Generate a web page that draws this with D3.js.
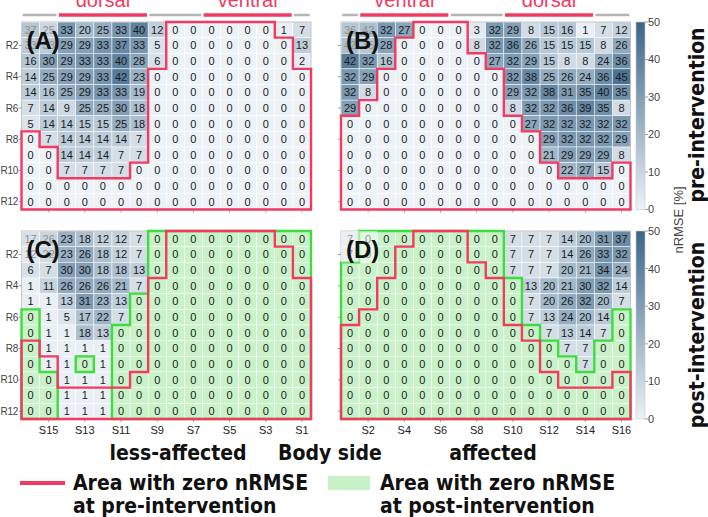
<!DOCTYPE html>
<html>
<head>
<meta charset="utf-8">
<script src="https://cdn.jsdelivr.net/npm/d3@7"></script>
<style>
  body { margin: 0; background: #fff; }
  svg text { font-family: "Liberation Sans", Arial, sans-serif; }
  svg text.bold { font-family: "Liberation Sans Narrow", "Arial Narrow", "DejaVu Sans Condensed", sans-serif; font-weight: bold; }
</style>
</head>
<body>
<svg id="chart" width="708" height="517"></svg>
<script>
// ---- data ----
const rowNames = d3.range(1, 13).map(i => 'R' + i)
const colsLess = d3.range(16, 0, -1).map(i => 'S' + i)   // S16 ... S1
const colsAff = d3.range(1, 17).map(i => 'S' + i)        // S1 ... S16
const rowTicks = ['R2', 'R4', 'R6', 'R8', 'R10', 'R12']
const tickLess = ['S15', 'S13', 'S11', 'S9', 'S7', 'S5', 'S3', 'S1']
const tickAff = ['S2', 'S4', 'S6', 'S8', 'S10', 'S12', 'S14', 'S16']
const regions = [{ name: 'ventral', from: 'S2', to: 'S6' }, { name: 'dorsal', from: 'S10', to: 'S14' }]
const cbTicks = [0, 10, 20, 30, 40, 50]

// (A) pre-intervention, less-affected side
const preLess = [
  [37, 25, 33, 20, 25, 33, 40, 12, 0, 0, 0, 0, 0, 0, 1, 7],
  [33, 33, 29, 29, 33, 37, 33, 5, 0, 0, 0, 0, 0, 0, 0, 13],
  [16, 30, 29, 33, 33, 40, 28, 6, 0, 0, 0, 0, 0, 0, 0, 2],
  [14, 25, 29, 29, 33, 42, 23, 0, 0, 0, 0, 0, 0, 0, 0, 0],
  [14, 16, 25, 29, 33, 33, 19, 0, 0, 0, 0, 0, 0, 0, 0, 0],
  [7, 14, 9, 25, 25, 30, 18, 0, 0, 0, 0, 0, 0, 0, 0, 0],
  [5, 14, 14, 15, 15, 25, 18, 0, 0, 0, 0, 0, 0, 0, 0, 0],
  [0, 7, 14, 14, 14, 14, 7, 0, 0, 0, 0, 0, 0, 0, 0, 0],
  [0, 0, 14, 14, 14, 7, 7, 0, 0, 0, 0, 0, 0, 0, 0, 0],
  [0, 0, 7, 7, 7, 7, 0, 0, 0, 0, 0, 0, 0, 0, 0, 0],
  [0, 0, 0, 0, 0, 0, 0, 0, 0, 0, 0, 0, 0, 0, 0, 0],
  [0, 0, 0, 0, 0, 0, 0, 0, 0, 0, 0, 0, 0, 0, 0, 0]
]
// (B) pre-intervention, affected side
const preAff = [
  [36, 42, 32, 27, 0, 0, 0, 3, 32, 29, 8, 15, 16, 1, 7, 12],
  [42, 35, 28, 0, 0, 0, 0, 8, 32, 36, 26, 15, 15, 15, 8, 26],
  [42, 32, 16, 0, 0, 0, 0, 0, 27, 32, 29, 15, 8, 8, 24, 36],
  [32, 29, 0, 0, 0, 0, 0, 0, 0, 32, 38, 25, 26, 24, 36, 45],
  [32, 8, 0, 0, 0, 0, 0, 0, 0, 29, 32, 38, 31, 35, 40, 35],
  [29, 0, 0, 0, 0, 0, 0, 0, 0, 8, 32, 32, 36, 39, 35, 8],
  [0, 0, 0, 0, 0, 0, 0, 0, 0, 0, 27, 32, 32, 32, 32, 32],
  [0, 0, 0, 0, 0, 0, 0, 0, 0, 0, 0, 29, 32, 32, 32, 29],
  [0, 0, 0, 0, 0, 0, 0, 0, 0, 0, 0, 21, 29, 29, 29, 8],
  [0, 0, 0, 0, 0, 0, 0, 0, 0, 0, 0, 0, 22, 27, 15, 0],
  [0, 0, 0, 0, 0, 0, 0, 0, 0, 0, 0, 0, 0, 0, 0, 0],
  [0, 0, 0, 0, 0, 0, 0, 0, 0, 0, 0, 0, 0, 0, 0, 0]
]
// (C) post-intervention, less-affected side
const postLess = [
  [17, 26, 23, 18, 12, 12, 7, 0, 0, 0, 0, 0, 0, 0, 0, 0],
  [12, 22, 23, 26, 18, 12, 7, 0, 0, 0, 0, 0, 0, 0, 0, 0],
  [6, 7, 30, 30, 18, 18, 13, 0, 0, 0, 0, 0, 0, 0, 0, 0],
  [1, 11, 26, 26, 26, 21, 7, 0, 0, 0, 0, 0, 0, 0, 0, 0],
  [1, 1, 13, 31, 23, 13, 0, 0, 0, 0, 0, 0, 0, 0, 0, 0],
  [0, 1, 5, 17, 22, 7, 0, 0, 0, 0, 0, 0, 0, 0, 0, 0],
  [0, 1, 1, 18, 13, 0, 0, 0, 0, 0, 0, 0, 0, 0, 0, 0],
  [0, 1, 1, 1, 1, 0, 0, 0, 0, 0, 0, 0, 0, 0, 0, 0],
  [0, 1, 1, 0, 1, 0, 0, 0, 0, 0, 0, 0, 0, 0, 0, 0],
  [0, 0, 1, 1, 1, 0, 0, 0, 0, 0, 0, 0, 0, 0, 0, 0],
  [0, 0, 1, 1, 1, 0, 0, 0, 0, 0, 0, 0, 0, 0, 0, 0],
  [0, 0, 1, 1, 1, 0, 0, 0, 0, 0, 0, 0, 0, 0, 0, 0]
]
// (D) post-intervention, affected side
const postAff = [
  [7, 0, 0, 0, 0, 0, 0, 0, 0, 7, 7, 7, 14, 20, 31, 37],
  [7, 0, 0, 0, 0, 0, 0, 0, 0, 7, 7, 7, 14, 26, 33, 32],
  [0, 0, 0, 0, 0, 0, 0, 0, 0, 7, 7, 7, 20, 21, 34, 24],
  [0, 0, 0, 0, 0, 0, 0, 0, 0, 0, 13, 20, 21, 30, 32, 14],
  [0, 0, 0, 0, 0, 0, 0, 0, 0, 0, 7, 20, 26, 32, 20, 7],
  [0, 0, 0, 0, 0, 0, 0, 0, 0, 0, 7, 13, 24, 20, 14, 0],
  [0, 0, 0, 0, 0, 0, 0, 0, 0, 0, 0, 7, 13, 14, 7, 0],
  [0, 0, 0, 0, 0, 0, 0, 0, 0, 0, 0, 0, 7, 7, 0, 0],
  [0, 0, 0, 0, 0, 0, 0, 0, 0, 0, 0, 0, 0, 7, 0, 0],
  [0, 0, 0, 0, 0, 0, 0, 0, 0, 0, 0, 0, 0, 0, 0, 0],
  [0, 0, 0, 0, 0, 0, 0, 0, 0, 0, 0, 0, 0, 0, 0, 0],
  [0, 0, 0, 0, 0, 0, 0, 0, 0, 0, 0, 0, 0, 0, 0, 0]
]

// ---- styles / layout ----
const RED = '#f23a63', GREEN = '#3fdc3f', GREEN_FILL = '#c9f2c9'
const color = d3.scaleLinear().domain([0, 50]).range(['#edf2f7', '#3a6588'])
const svg = d3.select('#chart')

const panelW = 289.5
const yTop = [22, 209.5], yBottom = [231, 419]
const panels = [
  { tag: '(A)', data: preLess, cols: colsLess, x0: 21.5, yr: yTop, pre: preLess, post: null, rowLab: true, colTicks: null },
  { tag: '(B)', data: preAff, cols: colsAff, x0: 341, yr: yTop, pre: preAff, post: null, rowLab: false, colTicks: null },
  { tag: '(C)', data: postLess, cols: colsLess, x0: 21.5, yr: yBottom, pre: preLess, post: postLess, rowLab: true, colTicks: tickLess },
  { tag: '(D)', data: postAff, cols: colsAff, x0: 341, yr: yBottom, pre: preAff, post: postAff, rowLab: false, colTicks: tickAff }
]

// outline of the zero cells of a matrix, as a path
function zeroOutline(m, x, y, cols) {
  const p = d3.path()
  const R = m.length, C = m[0].length
  const isZero = (r, c) => r >= 0 && r < R && c >= 0 && c < C && m[r][c] === 0
  for (let r = 0; r < R; r++) {
    for (let c = 0; c < C; c++) {
      if (!isZero(r, c)) continue
      const x1 = x(cols[c]), x2 = x1 + x.bandwidth()
      const y1 = y(rowNames[r]), y2 = y1 + y.bandwidth()
      if (!isZero(r - 1, c)) { p.moveTo(x1, y1); p.lineTo(x2, y1) }
      if (!isZero(r + 1, c)) { p.moveTo(x1, y2); p.lineTo(x2, y2) }
      if (!isZero(r, c - 1)) { p.moveTo(x1, y1); p.lineTo(x1, y2) }
      if (!isZero(r, c + 1)) { p.moveTo(x2, y1); p.lineTo(x2, y2) }
    }
  }
  return p.toString()
}

panels.forEach(pn => {
  const x = d3.scaleBand().domain(pn.cols).range([pn.x0, pn.x0 + panelW])
  const y = d3.scaleBand().domain(rowNames).range(pn.yr)
  const g = svg.append('g')

  const cells = []
  pn.data.forEach((row, r) => row.forEach((v, c) => cells.push({ r: rowNames[r], c: pn.cols[c], v })))

  g.selectAll('rect.cell')
    .data(cells)
    .join('rect')
    .attr('class', 'cell')
    .attr('x', d => x(d.c))
    .attr('y', d => y(d.r))
    .attr('width', x.bandwidth())
    .attr('height', y.bandwidth())
    .attr('fill', d => (pn.post && d.v === 0) ? GREEN_FILL : color(d.v))
    .attr('stroke', '#fff')
    .attr('stroke-width', 0.5)

  g.selectAll('text.val')
    .data(cells)
    .join('text')
    .attr('class', 'val')
    .attr('x', d => x(d.c) + x.bandwidth() / 2)
    .attr('y', d => y(d.r) + y.bandwidth() / 2)
    .attr('dy', '0.36em')
    .attr('text-anchor', 'middle')
    .attr('font-size', 11)
    .attr('fill', '#1a1a1a')
    .text(d => d.v)

  // panel frame
  g.append('rect')
    .attr('x', pn.x0).attr('y', pn.yr[0])
    .attr('width', panelW).attr('height', pn.yr[1] - pn.yr[0])
    .attr('fill', 'none').attr('stroke', '#b8b8b8').attr('stroke-width', 0.8)

  // ticks
  g.selectAll('line.rt')
    .data(rowTicks)
    .join('line')
    .attr('x1', pn.x0 - 3).attr('x2', pn.x0)
    .attr('y1', d => y(d) + y.bandwidth() / 2).attr('y2', d => y(d) + y.bandwidth() / 2)
    .attr('stroke', '#888').attr('stroke-width', 0.8)
  const ct = pn.cols.filter((d, i) => i % 2 === 1)
  g.selectAll('line.ct')
    .data(ct)
    .join('line')
    .attr('x1', d => x(d) + x.bandwidth() / 2).attr('x2', d => x(d) + x.bandwidth() / 2)
    .attr('y1', pn.yr[1]).attr('y2', pn.yr[1] + 3)
    .attr('stroke', '#888').attr('stroke-width', 0.8)

  if (pn.rowLab) {
    g.selectAll('text.rl')
      .data(rowTicks)
      .join('text')
      .attr('x', pn.x0 - 3.5)
      .attr('y', d => y(d) + y.bandwidth() / 2)
      .attr('dy', '0.36em')
      .attr('text-anchor', 'end')
      .attr('font-size', 10)
      .attr('letter-spacing', -0.3)
      .attr('fill', '#444')
      .text(d => d)
  }
  if (pn.colTicks) {
    g.selectAll('text.cl')
      .data(pn.colTicks)
      .join('text')
      .attr('x', d => x(d) + x.bandwidth() / 2)
      .attr('y', pn.yr[1] + 15)
      .attr('text-anchor', 'middle')
      .attr('font-size', 11)
      .attr('fill', '#222')
      .text(d => d)
  }

  // zero outlines: green (post) under red (pre)
  if (pn.post) {
    g.append('path')
      .attr('d', zeroOutline(pn.post, x, y, pn.cols))
      .attr('fill', 'none').attr('stroke', GREEN).attr('stroke-width', 2.4).attr('stroke-linecap', 'square')
  }
  g.append('path')
    .attr('d', zeroOutline(pn.pre, x, y, pn.cols))
    .attr('fill', 'none').attr('stroke', RED).attr('stroke-width', 2.4).attr('stroke-linecap', 'square')

  // panel tag with faded background
  g.append('rect')
    .attr('x', x(pn.cols[0])).attr('y', y('R1'))
    .attr('width', x.bandwidth() * 2).attr('height', y.bandwidth() * 2)
    .attr('fill', '#fff').attr('opacity', 0.5)
  g.append('text')
    .attr('x', pn.x0 + 5)
    .attr('y', pn.yr[0] + 27)
    .attr('font-size', 24)
    .attr('font-weight', 'bold')
    .attr('fill', '#111')
    .text(pn.tag)

  // body region header (top panels)
  if (pn.yr === yTop) {
    const idx = d => pn.cols.indexOf(d)
    const marks = regions.map(rg => {
      const a = idx(rg.from), b = idx(rg.to)
      return { name: rg.name, lo: Math.min(a, b), hi: Math.max(a, b) + 1 }
    }).sort((a, b) => a.lo - b.lo)
    const segs = []
    let cur = 0
    marks.forEach(m => {
      if (m.lo > cur) segs.push({ lo: cur, hi: m.lo, name: null })
      segs.push(m)
      cur = m.hi
    })
    if (cur < pn.cols.length) segs.push({ lo: cur, hi: pn.cols.length, name: null })
    const px = i => pn.x0 + i * x.step()
    g.selectAll('line.hd')
      .data(segs)
      .join('line')
      .attr('x1', d => px(d.lo) + 1.2).attr('x2', d => px(d.hi) - 1.2)
      .attr('y1', 15).attr('y2', 15)
      .attr('stroke', d => d.name ? RED : '#b4b4b4')
      .attr('stroke-width', d => d.name ? 3.5 : 2.5)
    g.selectAll('text.hd')
      .data(segs.filter(d => d.name))
      .join('text')
      .attr('x', d => (px(d.lo) + px(d.hi)) / 2)
      .attr('y', 7)
      .attr('text-anchor', 'middle')
      .attr('font-size', 20)
      .attr('fill', RED)
      .text(d => d.name)
  }
})

// ---- colour bars ----
const grad = svg.append('defs').append('linearGradient')
  .attr('id', 'cbar').attr('x1', 0).attr('x2', 0).attr('y1', 1).attr('y2', 0)
grad.selectAll('stop')
  .data(cbTicks)
  .join('stop')
  .attr('offset', d => d / 50)
  .attr('stop-color', d => color(d))

;[yTop, yBottom].forEach(yr => {
  const cy = d3.scaleLinear().domain([0, 50]).range([yr[1], yr[0]])
  const g = svg.append('g')
  g.append('rect')
    .attr('x', 636).attr('y', yr[0]).attr('width', 9).attr('height', yr[1] - yr[0])
    .attr('fill', 'url(#cbar)').attr('stroke', '#c8c8c8').attr('stroke-width', 0.6)
  g.selectAll('line')
    .data(cbTicks)
    .join('line')
    .attr('x1', 645).attr('x2', 648)
    .attr('y1', d => cy(d)).attr('y2', d => cy(d))
    .attr('stroke', '#888').attr('stroke-width', 0.8)
  g.selectAll('text')
    .data(cbTicks)
    .join('text')
    .attr('x', 648)
    .attr('y', d => cy(d))
    .attr('dy', '0.36em')
    .attr('font-size', 11)
    .attr('fill', '#444')
    .text(d => d)
})

svg.append('text')
  .attr('transform', 'translate(683,220) rotate(-90)')
  .attr('text-anchor', 'middle')
  .attr('font-size', 13)
  .attr('fill', '#444')
  .text('nRMSE [%]')

svg.append('text')
  .attr('class', 'bold')
  .attr('transform', 'translate(704,115) rotate(-90)')
  .attr('text-anchor', 'middle')
  .attr('font-size', 21)
  .attr('fill', '#111')
  .text('pre-intervention')
svg.append('text')
  .attr('class', 'bold')
  .attr('transform', 'translate(704,335) rotate(-90)')
  .attr('text-anchor', 'middle')
  .attr('font-size', 21)
  .attr('fill', '#111')
  .text('post-intervention')

// ---- bottom titles ----
const titles = [{ t: 'less-affected', x: 178 }, { t: 'Body side', x: 330 }, { t: 'affected', x: 493 }]
svg.selectAll('text.ttl')
  .data(titles)
  .join('text')
  .attr('class', 'bold')
  .attr('x', d => d.x)
  .attr('y', 460)
  .attr('text-anchor', 'middle')
  .attr('font-size', 21)
  .attr('fill', '#111')
  .text(d => d.t)

// ---- legend ----
const lg = svg.append('g')
lg.append('line').attr('x1', 20).attr('x2', 65).attr('y1', 483).attr('y2', 483)
  .attr('stroke', RED).attr('stroke-width', 4)
lg.append('rect').attr('x', 328).attr('y', 476).attr('width', 42).attr('height', 14)
  .attr('fill', GREEN_FILL)
const legText = [
  { x: 73, lines: ['Area with zero nRMSE', 'at pre-intervention'] },
  { x: 380, lines: ['Area with zero nRMSE', 'at post-intervention'] }
]
legText.forEach(l => {
  lg.selectAll(null)
    .data(l.lines)
    .join('text')
    .attr('class', 'bold')
    .attr('x', l.x)
    .attr('y', (d, i) => 490 + i * 23)
    .attr('font-size', 21)
    .attr('fill', '#111')
    .text(d => d)
})
</script>
</body>
</html>
